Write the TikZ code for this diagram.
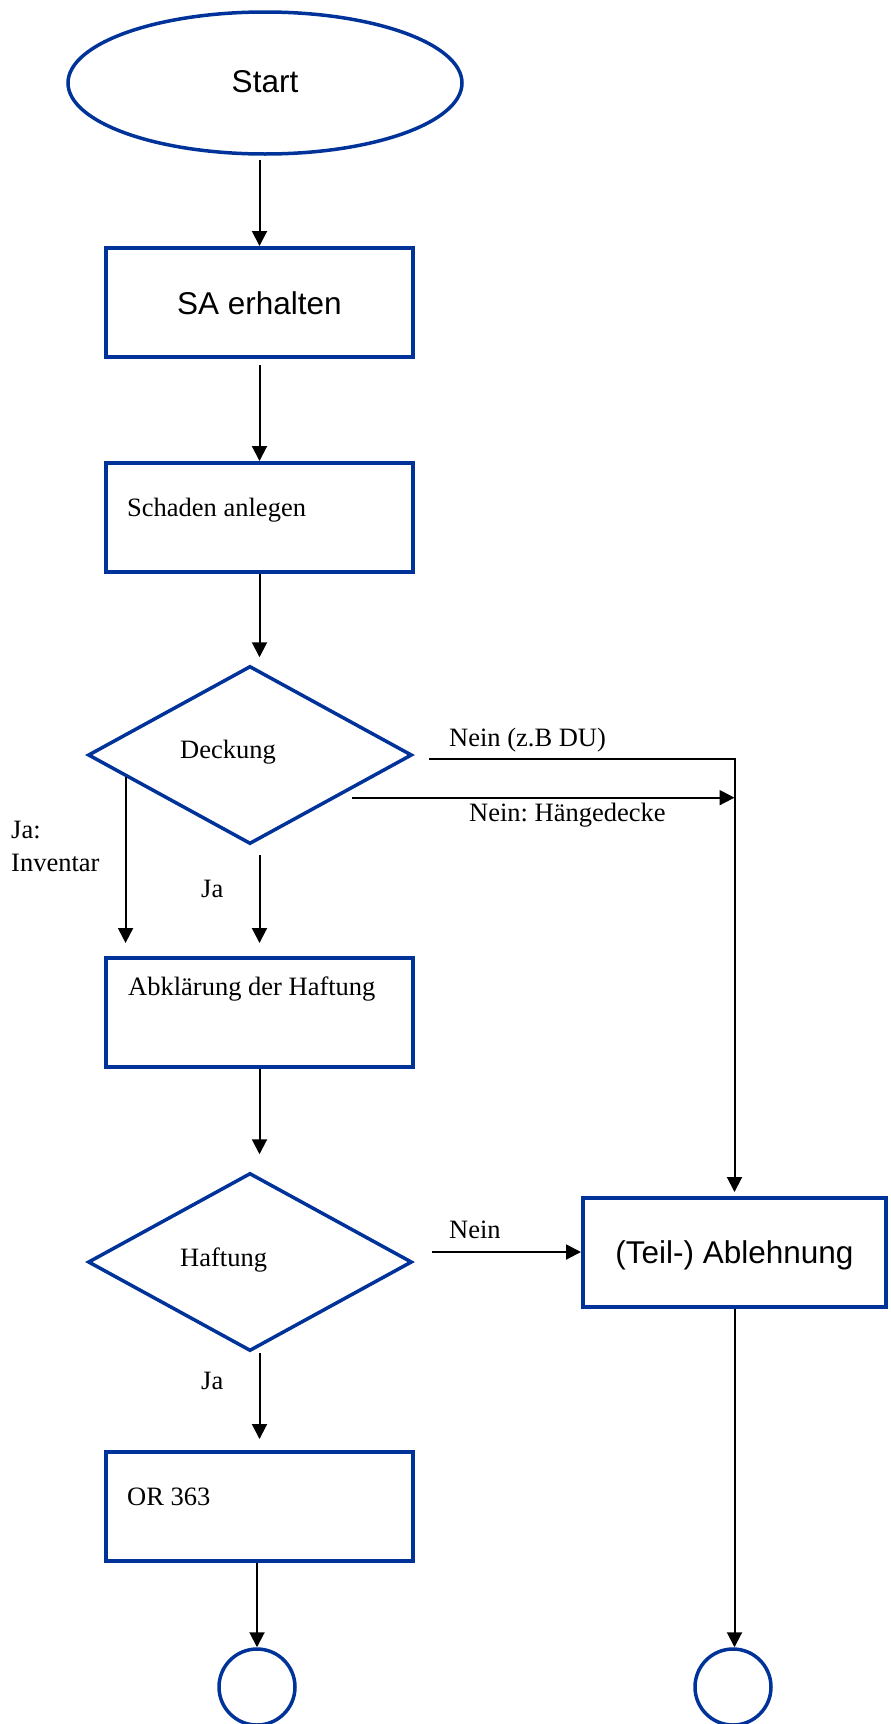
\documentclass[tikz,border=0pt]{standalone}
\usepackage{fontspec}
\setmainfont{Liberation Serif}
\newfontfamily\arialfont{Liberation Sans}
\usetikzlibrary{shapes.geometric,arrows.meta,calc}
\definecolor{fcblue}{RGB}{0,51,153}
\frenchspacing
\tikzset{
  blueline/.style={draw=fcblue, line width=3.5pt},
  procbox/.style={blueline, line width=4pt, rectangle, minimum width=307pt, minimum height=109pt, inner sep=0pt},
  decbox/.style={blueline, diamond, minimum width=324pt, minimum height=178pt, inner sep=0pt},
  endcirc/.style={blueline, ellipse, minimum width=76pt, minimum height=76pt, inner sep=0pt},
  conn/.style={-{Triangle[length=15pt,width=15pt]}, line width=2pt, black},
  serif/.style={font=\fontsize{26.5}{32}\selectfont, inner sep=0pt},
  sans/.style={font=\arialfont\fontsize{31.5}{38}\selectfont, inner sep=0pt},
}
\begin{document}
\begin{tikzpicture}[x=1pt,y=-1pt]
\useasboundingbox[fill=white] (0,0) rectangle (891,1724);

% shapes
\node[blueline, ellipse, minimum width=394pt, minimum height=142pt, inner sep=0pt] (start) at (265,83) {};
\node[procbox] (sa) at (259.5,302.5) {};
\node[procbox] (schaden) at (259.5,517.5) {};
\node[decbox] (deck) at (250,755) {};
\node[procbox] (abk) at (259.5,1012.5) {};
\node[decbox] (haft) at (250,1262) {};
\node[procbox, minimum width=303pt] (abl) at (734.5,1252.5) {};
\node[procbox] (or) at (259.5,1506.5) {};
\node[endcirc] (endl) at (257,1687) {};
\node[endcirc] (endr) at (733,1687) {};

% texts
\node[sans, anchor=base] (tstart) at (265,92) {Start};
\node[sans, anchor=base] (tsa) at (259.5,314) {SA erhalten};
\node[serif, anchor=base west] (tschaden) at (127,516) {Schaden anlegen};
\node[serif, anchor=base west] (tdeck) at (180,758) {Deckung};
\node[serif, anchor=base west] (tnein1) at (449,746) {Nein (z.B DU)};
\node[serif, anchor=base west] (tnein2) at (469,821) {Nein: Hängedecke};
\node[serif, anchor=base west] (tja1) at (11,838) {Ja:};
\node[serif, anchor=base west] (tja2) at (11,871) {Inventar};
\node[serif, anchor=base west] (tja3) at (201,897) {Ja};
\node[serif, anchor=base west] (tabk) at (128,995) {Abklärung der Haftung};
\node[serif, anchor=base west] (thaft) at (180,1266) {Haftung};
\node[serif, anchor=base west] (tnein3) at (449,1238) {Nein};
\node[sans, anchor=base] (tabl) at (734.5,1263) {(Teil-) Ablehnung};
\node[serif, anchor=base west] (tja4) at (201,1389) {Ja};
\node[serif, anchor=base west] (tor) at (127,1505) {OR 363};

% helper coordinates
\coordinate (hd) at ($(deck.east)!0.47!(deck.south)+(15,0)$);
\coordinate (ji) at ($(deck.west)!0.24!(deck.south)$);
\coordinate (hn) at ($(haft.east)+(18,-10)$);

% connectors
\draw[conn, shorten <=4pt] (start.south -| sa.north) -- (sa.north);
\draw[conn, shorten <=6pt] (sa.south) -- (schaden.north);
\draw[conn, shorten >=7pt] (schaden.south) -- (deck.north -| schaden.south);
\draw[conn] ([xshift=15pt,yshift=-4pt]deck.east) -| ([yshift=4pt]abl.north);
\draw[conn] (hd) -- (hd -| abl.north);
\draw[conn, shorten >=13pt] (ji) -- (ji |- abk.north);
\draw[conn, shorten <=9pt, shorten >=13pt] (deck.south -| abk.north) -- (abk.north);
\draw[conn, shorten >=17pt] (abk.south) -- (haft.north -| abk.south);
\draw[conn] (hn) -- (hn -| abl.west);
\draw[conn, shorten >=11pt] (haft.south -| or.north) -- (or.north);
\draw[conn] (or.south -| endl.north) -- (endl.north);
\draw[conn] (abl.south) -- (abl.south |- endr.north);
\end{tikzpicture}
\end{document}
